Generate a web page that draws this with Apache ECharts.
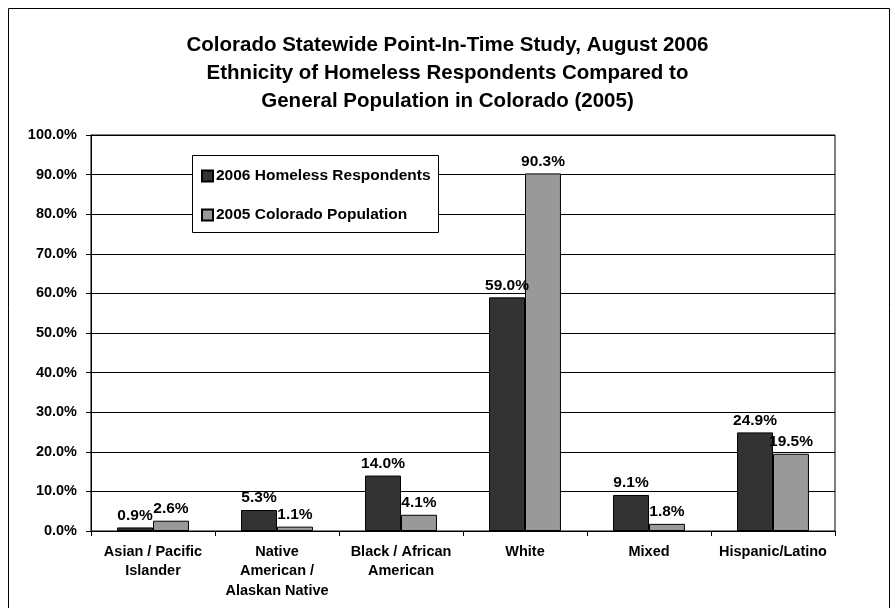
<!DOCTYPE html>
<html>
<head>
<meta charset="utf-8">
<script src="https://cdn.jsdelivr.net/npm/echarts@6/dist/echarts.min.js"></script>
<style>
html,body{margin:0;padding:0;background:#fff;}
#chart{width:895px;height:608px;}
</style>
</head>
<body>
<div id="chart"></div>
<script>
const categories = ["Asian / Pacific\nIslander", "Native\nAmerican /\nAlaskan Native", "Black / African\nAmerican", "White", "Mixed", "Hispanic/Latino"];
const homeless2006 = [0.9, 5.3, 14.0, 59.0, 9.1, 24.9];
const population2005 = [2.6, 1.1, 4.1, 90.3, 1.8, 19.5];
const seriesNames = ["2006 Homeless Respondents", "2005 Colorado Population"];
const titleText = "Colorado Statewide Point-In-Time Study, August 2006\nEthnicity of Homeless Respondents Compared to\nGeneral Population in Colorado (2005)";

const FONT = "Liberation Sans, Arial, sans-serif";
const chart = echarts.init(document.getElementById('chart'), null, {renderer: 'canvas'});
const labelStyle = {
  show: true, position: 'top', distance: 4,
  fontFamily: FONT, fontWeight: 'bold', fontSize: 15.5, color: '#000',
  formatter: p => p.value.toFixed(1) + '%'
};
chart.setOption({
  animation: false,
  backgroundColor: '#fff',
  title: {
    text: titleText, left: 'center', top: 31, padding: 0,
    textStyle: {fontFamily: FONT, fontWeight: 'bold', fontSize: 20.5, lineHeight: 28, color: '#000'}
  },
  graphic: [
    {type: 'rect', z: -1, shape: {x: 8.5, y: 8.5, width: 881, height: 640},
     style: {fill: 'none', stroke: '#000', lineWidth: 1}},
    {type: 'rect', z: 50, shape: {x: 192.5, y: 155.5, width: 246, height: 77},
     style: {fill: '#fff', stroke: '#000', lineWidth: 1}}
  ],
  legend: {
    orient: 'vertical', left: 196, top: 163, z: 60,
    itemWidth: 11, itemHeight: 11, itemGap: 23,
    icon: 'rect',
    textStyle: {fontFamily: FONT, fontWeight: 'bold', fontSize: 15.5, color: '#000', padding: [0,0,0,-2]},
    data: seriesNames
  },
  grid: {left: 91, right: 60, top: 135, bottom: 77, show: true, borderColor: '#000', borderWidth: 1},
  xAxis: {
    type: 'category', data: categories,
    axisLine: {lineStyle: {color: '#000', width: 1}},
    axisTick: {show: true, length: 5, lineStyle: {color: '#000'}},
    axisLabel: {fontFamily: FONT, fontWeight: 'bold', fontSize: 14.5, color: '#000', lineHeight: 19.5, margin: 11, interval: 0}
  },
  yAxis: {
    type: 'value', min: 0, max: 100, interval: 10,
    axisLine: {show: true, lineStyle: {color: '#000', width: 1}},
    axisTick: {show: true, length: 5, lineStyle: {color: '#000'}},
    splitLine: {lineStyle: {color: '#000', width: 1}},
    axisLabel: {fontFamily: FONT, fontWeight: 'bold', fontSize: 14.5, color: '#000', margin: 14,
      formatter: v => v.toFixed(1) + '%'}
  },
  series: [
    {name: seriesNames[0], type: 'bar', data: homeless2006, barGap: '0%', barCategoryGap: '42%',
     itemStyle: {color: '#333333', borderColor: '#000', borderWidth: 1}, label: labelStyle},
    {name: seriesNames[1], type: 'bar', data: population2005, barGap: '0%', barCategoryGap: '42%',
     itemStyle: {color: '#999999', borderColor: '#000', borderWidth: 1}, label: labelStyle}
  ]
});
</script>
</body>
</html>
